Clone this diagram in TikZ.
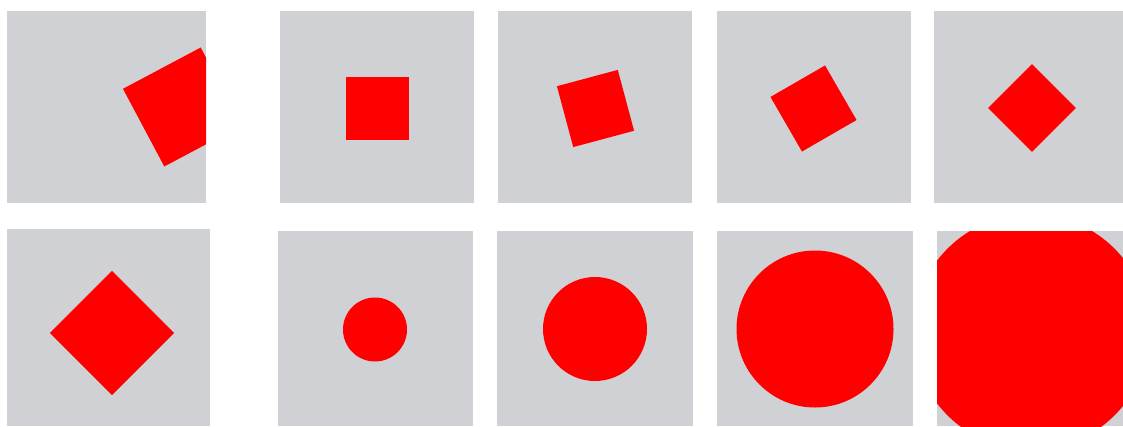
\documentclass[tikz,border=0pt]{standalone}
\usepackage{tikz}
\usetikzlibrary{positioning}
\definecolor{panelgray}{RGB}{208,209,212}
\definecolor{markred}{RGB}{255,0,0}

\begin{document}
\begin{tikzpicture}[x=1pt, y=-1pt,
  panel/.style={fill=panelgray, draw=none},
  redsq/.style={rectangle, fill=markred, draw=none, inner sep=0pt, minimum size=#1},
  reddot/.style={circle, fill=markred, draw=none, inner sep=0pt, minimum size=#1},
]
  \useasboundingbox (0,0) rectangle (1123,426);

  % top row
  \path[panel] (7,11) rectangle (206,203);
  \path[panel] (280,11) rectangle (474,203);
  \path[panel] (498,11) rectangle (692,203);
  \path[panel] (717,11) rectangle (911,203);
  \path[panel] (934,11) rectangle (1123,203);

  \begin{scope}
    \clip (7,11) rectangle (206,203);
    \node[redsq=88pt, rotate=28] (sqbig) at (182.5,107) {};
  \end{scope}
  \node[redsq=63pt] (sqa) at (377,108) {};
  \node[redsq=63pt, rotate=15] (sqb) at (595.5,108.5) {};
  \node[redsq=63pt, rotate=30] (sqc) at (813.5,108.5) {};
  \node[redsq=62pt, rotate=45] (sqd) at (1032,108) {};

  % bottom row
  \path[panel] (7,229) rectangle (210,426);
  \path[panel] (278,231) rectangle (473,426);
  \path[panel] (497,231) rectangle (693,426);
  \path[panel] (717,231) rectangle (913,426);
  \path[panel] (937,231) rectangle (1123,426);

  \node[redsq=88pt, rotate=45] (diam) at (112,333) {};
  \node[reddot=64pt] (dota) at (375,329.5) {};
  \node[reddot=104pt] (dotb) at (595,329) {};
  \node[reddot=157pt] (dotc) at (815,329) {};
  \begin{scope}
    \clip (937,231) rectangle (1123,426);
    \node[reddot=236pt] (dotd) at (1031,332) {};
  \end{scope}
\end{tikzpicture}
\end{document}
